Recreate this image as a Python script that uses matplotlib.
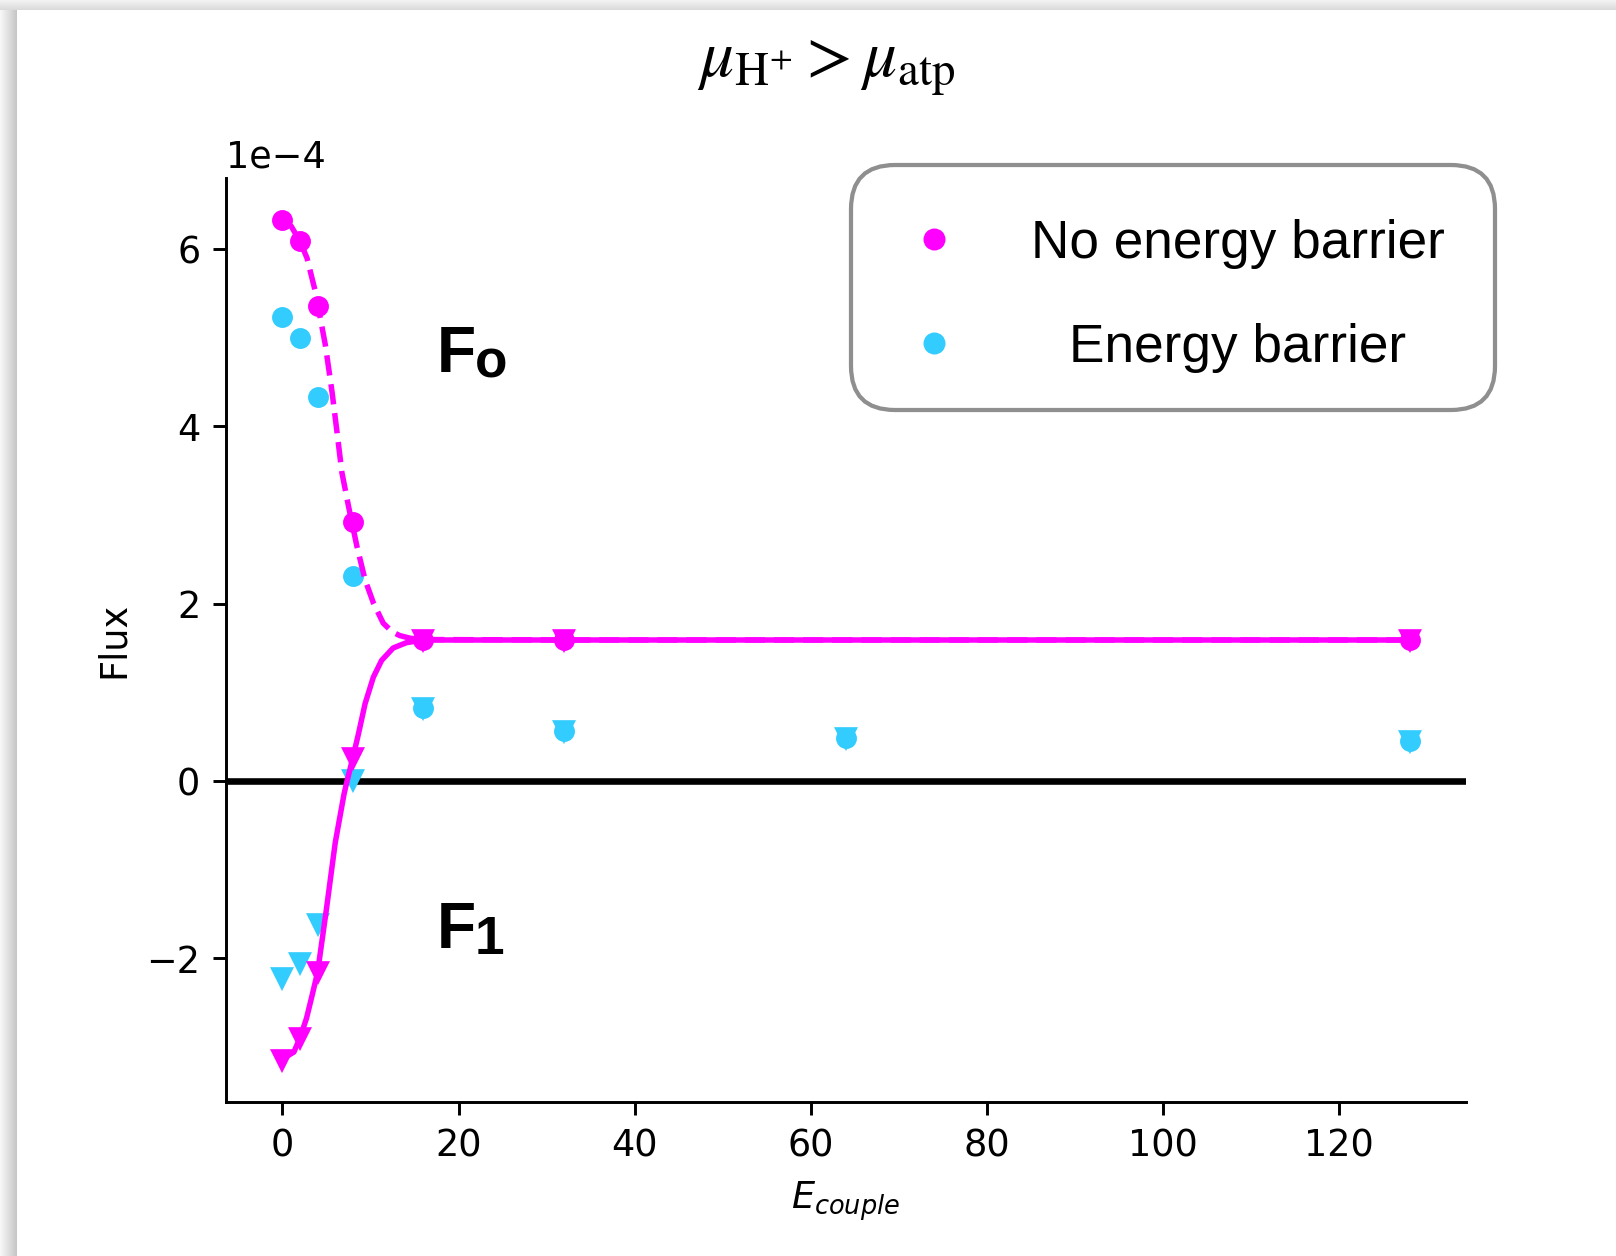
import matplotlib
matplotlib.use('Agg')
import matplotlib.pyplot as plt
import numpy as np
from matplotlib.patches import FancyBboxPatch
from matplotlib.lines import Line2D
from matplotlib.transforms import Affine2D

W, H = 1616, 1256
DPI = 264
SCALE = 1e-4

# coupling strengths
x_nobar = [0, 2, 4, 8, 16, 32, 128]
x_bar = [0, 2, 4, 8, 16, 32, 64, 128]

# flux values (x1e-4)
fo_nobar = [6.33, 6.09, 5.36, 2.92, 1.59, 1.59, 1.59]
f1_nobar = [-3.15, -2.90, -2.16, 0.26, 1.59, 1.59, 1.59]
fo_bar = [5.24, 5.00, 4.33, 2.31, 0.82, 0.56, 0.48, 0.45]
f1_bar = [-2.23, -2.06, -1.61, 0.01, 0.82, 0.56, 0.48, 0.45]

# fitted curves
fit_x_o = [0, 1, 2, 2.8, 3.75, 4.88, 5.64, 6.2, 6.76, 7.51, 8.46, 9.39,
           10.33, 11.45, 12.5, 13.33, 14.5, 16, 32, 64, 128]
fit_o = [6.33, 6.26, 6.09, 5.90, 5.52, 4.92, 4.39, 3.94, 3.48, 3.10, 2.65, 2.27,
         2.01, 1.78, 1.68, 1.64, 1.61, 1.595, 1.59, 1.59, 1.59]
fit_x_1 = [0, 1.31, 2, 2.74, 3.38, 4, 5, 6, 7, 7.35, 8, 8.64, 9.39,
           10.33, 11.27, 12.58, 14.09, 16, 32, 64, 128]
fit_1 = [-3.14, -3.06, -2.90, -2.68, -2.42, -2.16, -1.45, -0.70, -0.15, 0.0, 0.26, 0.53, 0.87,
         1.17, 1.36, 1.50, 1.56, 1.59, 1.59, 1.59, 1.59]

labels = ['No energy barrier', 'Energy barrier']
MAG = '#ff00ff'
CYAN = '#33ccff'

def sc(vals):
    return [v * SCALE for v in vals]

fig = plt.figure(figsize=(W / DPI, H / DPI), dpi=DPI)

# screenshot shadow along left and top edges
left = np.ones((H, 17, 3))
g = np.linspace(0.97, 0.78, 17)
left[:, :, :] = g[None, :, None]
fig.figimage(left, xo=0, yo=0)
top = np.ones((10, W, 3))
gt = np.linspace(0.95, 0.86, 10)
top[:, :, :] = gt[:, None, None]
fig.figimage(top, xo=0, yo=H - 10)

ax = fig.add_axes([226 / W, 154 / H, 1240 / W, 924 / H])
ax.spines['top'].set_visible(False)
ax.spines['right'].set_visible(False)

ax.axhline(0, color='k', lw=1.8, zorder=1.5)

ax.plot(x_bar, sc(fo_bar), 'o', color=CYAN, ms=4.7, zorder=2)
ax.plot(x_bar, sc(f1_bar), 'v', color=CYAN, ms=5, zorder=2)
ax.plot(fit_x_o, sc(fit_o), '--', color=MAG, lw=1.5, zorder=3)
ax.plot(fit_x_1, sc(fit_1), '-', color=MAG, lw=1.5, zorder=3)
ax.plot(x_nobar, sc(fo_nobar), 'o', color=MAG, ms=4.7, zorder=3)
ax.plot(x_nobar, sc(f1_nobar), 'v', color=MAG, ms=5, zorder=3)

ax.ticklabel_format(axis='y', style='sci', scilimits=(0, 0))
ax.set_xlabel(r'$E_{couple}$')
ax.set_ylabel('Flux')

# F_o / F_1 labels
for name, sub, yv in [('F', 'o', 4.62), ('F', '1', -1.89)]:
    ax.text(17.5, yv * SCALE, name, family='Liberation Sans', weight='bold',
            fontsize=17.5, va='baseline', ha='left')
    ax.annotate(sub, xy=(17.5, yv * SCALE), xytext=(10.4, -1.6), textcoords='offset points',
                family='Liberation Sans', weight='bold', fontsize=14.5,
                va='baseline', ha='left')

fig.text(826 / W, 1 - 76 / H, r'$\mu_{\mathrm{H^{+}}} > \mu_{\mathrm{atp}}$',
         math_fontfamily='stix', fontsize=18.3, ha='center', va='baseline')

# legend drawn in pixel units
pix = Affine2D().scale(1 / W, 1 / H) + fig.transFigure
box = FancyBboxPatch((851, H - 410), 644, 245, boxstyle='round,pad=0,rounding_size=44',
                     facecolor='white', edgecolor='#8f8f8f', lw=1.15, transform=pix)
fig.add_artist(box)
for lab, col, yc, yb in [(labels[0], MAG, 239, 258), (labels[1], CYAN, 343, 362)]:
    fig.add_artist(Line2D([934], [H - yc], marker='o', ms=5, color=col, ls='none', transform=pix))
    fig.text(1238 / W, 1 - yb / H, lab, family='Liberation Sans', fontsize=14.5,
             ha='center', va='baseline')

fig.savefig('out.png', dpi=DPI)
